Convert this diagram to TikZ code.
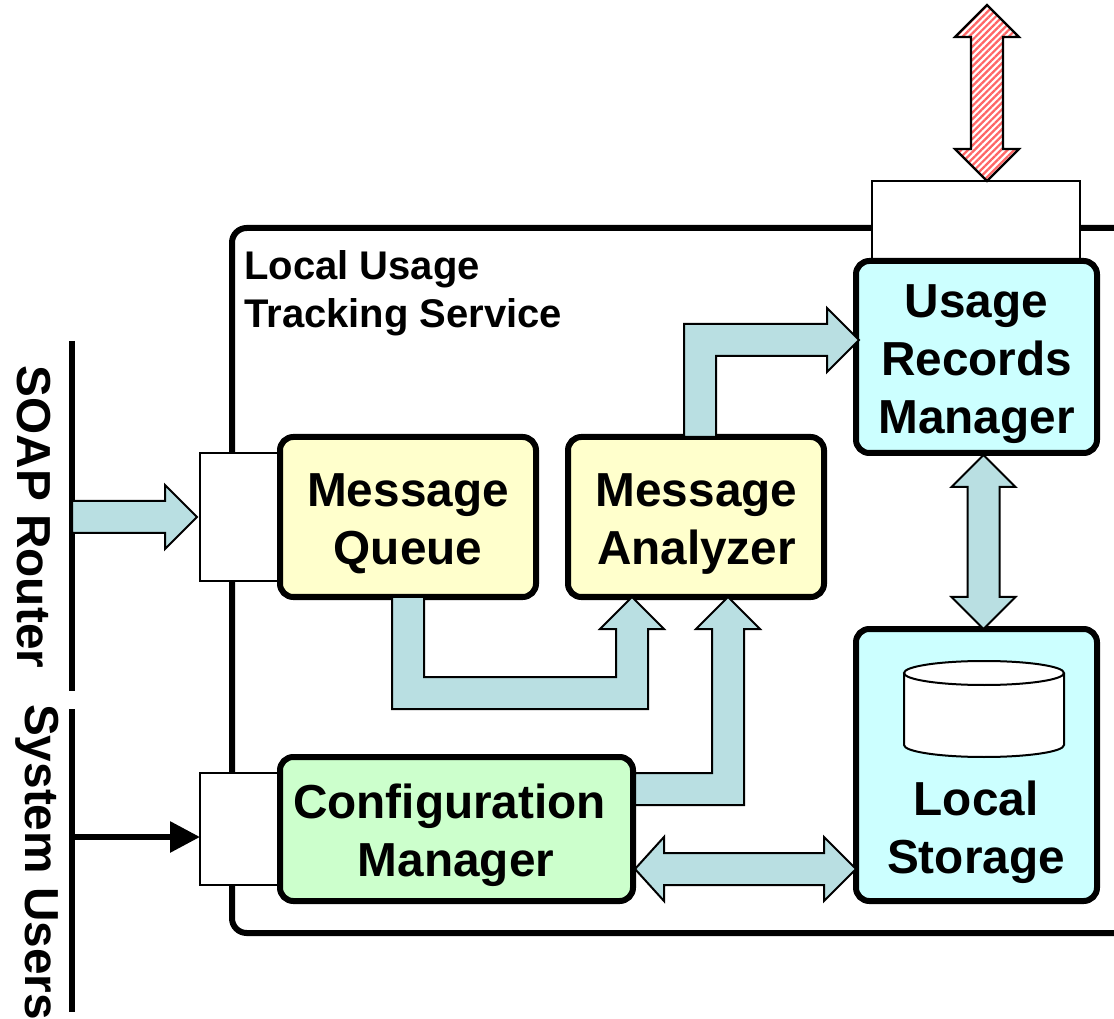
\documentclass[tikz,border=0pt]{standalone}
\usepackage{fontspec}
\setmainfont{Liberation Sans}
\usetikzlibrary{calc,patterns.meta,arrows.meta}
\definecolor{blockc}{HTML}{B9DFE2}
\definecolor{yellowc}{HTML}{FFFFCC}
\definecolor{greenc}{HTML}{CCFFCC}
\definecolor{cyanc}{HTML}{CCFFFF}
\definecolor{stripec}{HTML}{FF6666}
\tikzset{
  box/.style={draw=black,line width=4.5pt,rounded corners=10pt,inner sep=0pt,outer sep=0pt},
  port/.style={draw=black,fill=white,line width=1.5pt,inner sep=0pt,outer sep=0pt},
  frameline/.style={line width=4.5pt,rounded corners=11pt},
  busline/.style={line width=4.5pt},
  blockarrow/.style={draw=black,fill=blockc,line width=1.5pt,miter limit=10},
  redarrow/.style={draw=black,line width=1.7pt,miter limit=10,
    preaction={fill=white},
    pattern={Lines[angle=45,distance=3.5pt,line width=1.7pt]},pattern color=stripec},
  sidetext/.style={rotate=-90,anchor=base,inner sep=0pt,font=\fontsize{35.8pt}{43.5pt}\selectfont\bfseries},
  titletext/.style={anchor=north west,inner sep=0pt,align=left,font=\fontsize{30pt}{36pt}\selectfont\bfseries},
  boxtext/.style={inner sep=0pt,align=center,font=\fontsize{35.8pt}{43.5pt}\selectfont\bfseries},
}
\begin{document}
\begin{tikzpicture}[x=0.75pt,y=-0.75pt]
\useasboundingbox (0,0) rectangle (1114,1019);
% service frame (open on the right)
\draw[frameline] (1114,228) -- (232,228) -- (232,933) -- (1114,933);
% bus lines
\draw[busline] (72,341) -- (72,691);
\draw[busline] (72,709) -- (72,1012);
\coordinate (soapOut) at (72,517);
\coordinate (usersOut) at (72,837);
\node[sidetext] (soap) at (17,517) {SOAP Router};
\node[sidetext] (users) at (26,862) {System Users};
% ports
\node[port,minimum width=60pt,minimum height=96pt] (p1) at (240,517) {};
\node[port,minimum width=60pt,minimum height=84pt] (p2) at (240,829) {};
\node[port,minimum width=156pt,minimum height=59.25pt] (p3) at (976,220.5) {};
% boxes
\node[box,fill=yellowc,minimum width=192pt,minimum height=120pt] (mq) at (408,517) {};
\node[box,fill=yellowc,minimum width=192pt,minimum height=120pt] (ma) at (696,517) {};
\node[box,fill=greenc,minimum width=264.75pt,minimum height=108pt] (cm) at (456.5,829) {};
\node[box,fill=cyanc,minimum width=180.75pt,minimum height=144pt] (urm) at (976.5,357) {};
\node[box,fill=cyanc,minimum width=180.75pt,minimum height=204pt] (ls) at (976.5,765) {};
\node[boxtext] (mqtext) at (408,524) {Message\\Queue};
\node[boxtext] (matext) at (696.5,524) {Message\\Analyzer};
\node[boxtext] (cmtext) at (456,835) {Configuration\hspace*{9.75pt}\\Manager};
\node[boxtext] (urmtext) at (976.5,364) {Usage\\Records\\Manager};
\node[boxtext] (lstext) at (976,832) {Local\\Storage};
\node[titletext] (title) at (244,250) {Local Usage\\Tracking Service};
% storage cylinder
\draw[line width=1.5pt,fill=white] (904,673) -- (904,745) arc[start angle=180,end angle=0,x radius=80,y radius=12] -- (1064,673);
\draw[line width=1.5pt,fill=white] (984,673) ellipse[x radius=80,y radius=12];
% block arrows
\draw[blockarrow] (soapOut) ++(0,-16) -- ++(93,0) -- ++(0,-16) -- ($(p1.west)+(-3,0)$) -- ++(-32,32) -- ++(0,-16) -- ++(-93,0) -- cycle;
\draw[-{Triangle[length=22.5pt,width=22.5pt]},line width=4.5pt] (usersOut) -- ($(p2.west)+(0,8)$);
\draw[redarrow] ($(p3.north)+(11,0)$) -- ++(-32,-32) -- ++(16,0) -- ++(0,-112) -- ++(-16,0) -- ++(32,-32) -- ++(32,32) -- ++(-16,0) -- ++(0,112) -- ++(16,0) -- cycle;
% MQ -> MA
\draw[blockarrow] ($(mq.south west)+(144,0)$) -- ++(0,80) -- ++(192,0) -- ++(0,-48) -- ++(-16,0) -- ($(ma.south west)+(64,0)$) -- ++(32,32) -- ++(-16,0) -- ++(0,80) -- ++(-256,0) -- ++(0,-112) -- cycle;
% CM -> MA
\draw[blockarrow] ($(cm.north east)+(2,16)$) -- ++(77,0) -- ++(0,-144) -- ++(-16,0) -- ($(ma.south west)+(160,0)$) -- ++(32,32) -- ++(-16,0) -- ++(0,176) -- ++(-109,0) -- cycle;
% MA -> URM
\draw[blockarrow] ($(ma.north west)+(116,0)$) -- ++(0,-113) -- ++(143,0) -- ++(0,-16) -- ($(urm.west)+(3,-17)$) -- ++(-32,32) -- ++(0,-16) -- ++(-111,0) -- ++(0,81) -- cycle;
% CM <-> LS
\draw[blockarrow] ($(cm.east)+(2,40)$) -- ++(29,-32) -- ++(0,16) -- ++(160,0) -- ++(0,-16) -- ($(ls.west)+(0,104)$) -- ++(-32,32) -- ++(0,-16) -- ++(-160,0) -- ++(0,16) -- cycle;
% URM <-> LS
\draw[blockarrow] ($(urm.south)+(7,2)$) -- ++(32,32) -- ++(-16,0) -- ++(0,110) -- ++(16,0) -- ($(ls.north)+(7,0)$) -- ++(-32,-32) -- ++(16,0) -- ++(0,-110) -- ++(-16,0) -- cycle;
\end{tikzpicture}
\end{document}
